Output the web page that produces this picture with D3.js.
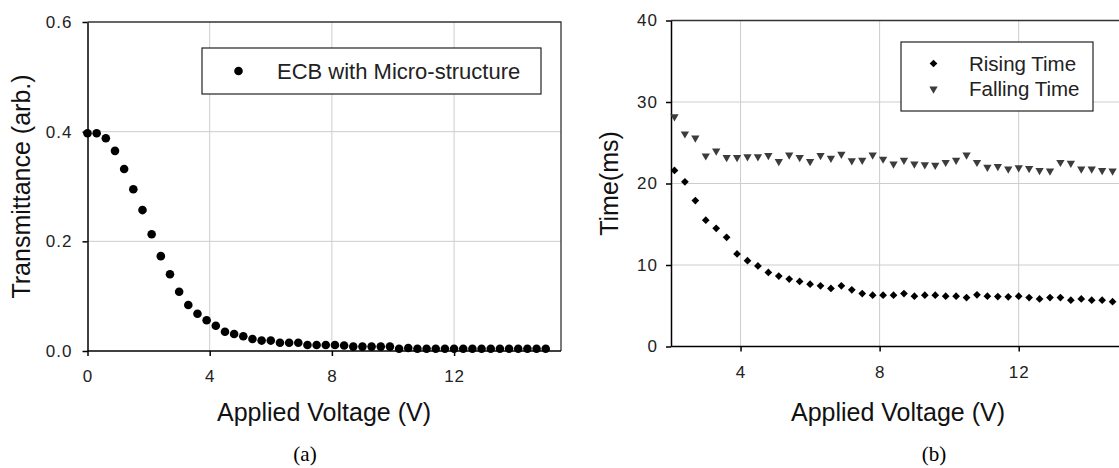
<!DOCTYPE html>
<html>
<head>
<meta charset="utf-8">
<script src="https://cdn.jsdelivr.net/npm/d3@7"></script>
<style>
body { margin: 0; background: #fff; }
svg { display: block; font-family: "Liberation Sans", Arial, sans-serif; }
.grid line { stroke: #cdcdcd; stroke-width: 1; }
.axis path, .axis line { stroke: #000; stroke-width: 1.5; }
.axis text { font-size: 17px; fill: #222; letter-spacing: 1px; }
.title { font-size: 25px; fill: #111; }
.caption { font-family: "Liberation Serif", "Times New Roman", serif; font-size: 21px; fill: #000; }
</style>
</head>
<body>
<svg width="1119" height="468"></svg>
<script>
// panel (a)
var voltageA = [0, 0.3, 0.6, 0.9, 1.2, 1.5, 1.8, 2.1, 2.4, 2.7, 3.0, 3.3, 3.6, 3.9, 4.2, 4.5, 4.8,
  5.1, 5.4, 5.7, 6.0, 6.3, 6.6, 6.9, 7.2, 7.5, 7.8, 8.1, 8.4, 8.7, 9.0, 9.3, 9.6, 9.9, 10.2,
  10.5, 10.8, 11.1, 11.4, 11.7, 12.0, 12.3, 12.6, 12.9, 13.2, 13.5, 13.8, 14.1, 14.4, 14.7, 15.0];
var transmittance = [0.397, 0.397, 0.388, 0.365, 0.332, 0.295, 0.257, 0.213, 0.173, 0.140, 0.108,
  0.084, 0.068, 0.056, 0.046, 0.035, 0.031, 0.027, 0.022, 0.019, 0.019, 0.015, 0.015, 0.015,
  0.011, 0.011, 0.011, 0.011, 0.010, 0.008, 0.008, 0.008, 0.008, 0.008, 0.004, 0.0055, 0.004,
  0.004, 0.004, 0.004, 0.004, 0.004, 0.004, 0.004, 0.004, 0.004, 0.004, 0.004, 0.004, 0.004, 0.004];
var xTicksA = [0, 4, 8, 12];
var yTicksA = [0, 0.2, 0.4, 0.6];

// panel (b)
var voltageB = [2.1, 2.4, 2.7, 3.0, 3.3, 3.6, 3.9, 4.2, 4.5, 4.8, 5.1, 5.4, 5.7, 6.0, 6.3, 6.6,
  6.9, 7.2, 7.5, 7.8, 8.1, 8.4, 8.7, 9.0, 9.3, 9.6, 9.9, 10.2, 10.5, 10.8, 11.1, 11.4, 11.7,
  12.0, 12.3, 12.6, 12.9, 13.2, 13.5, 13.8, 14.1, 14.4, 14.7];
var risingTime = [21.6, 20.2, 17.9, 15.5, 14.5, 13.4, 11.36, 10.53, 9.88, 9.09, 8.64, 8.27, 7.98,
  7.65, 7.45, 7.12, 7.45, 6.95, 6.5, 6.3, 6.3, 6.3, 6.5, 6.17, 6.3, 6.3, 6.17, 6.17, 6.0, 6.34,
  6.17, 6.13, 6.1, 6.17, 6.0, 5.84, 6.0, 6.0, 5.68, 5.84, 5.68, 5.68, 5.5];
var fallingTime = [28.2, 26.1, 25.6, 23.4, 24.0, 23.2, 23.2, 23.3, 23.3, 23.45, 22.7, 23.5, 23.2,
  22.7, 23.45, 23.1, 23.6, 22.8, 22.85, 23.5, 23.0, 22.4, 22.85, 22.4, 22.3, 22.25, 22.6, 22.85,
  23.5, 22.6, 22.0, 22.1, 21.8, 21.95, 21.85, 21.6, 21.55, 22.6, 22.5, 21.8, 21.8, 21.6, 21.55];
var xTicksB = [4, 8, 12];
var yTicksB = [0, 10, 20, 30, 40];

var svg = d3.select("svg");

function panel(o) {
  var g = svg.append("g");
  var x = d3.scaleLinear().domain(o.xDomain).range([o.left, o.right]);
  var y = d3.scaleLinear().domain(o.yDomain).range([o.bottom, o.top]);

  // gridlines
  var grid = g.append("g").attr("class", "grid");
  grid.selectAll(".gx").data(o.xTicks.filter(function(d) { return d > o.xDomain[0]; }))
    .enter().append("line")
    .attr("x1", function(d) { return x(d); }).attr("x2", function(d) { return x(d); })
    .attr("y1", o.top).attr("y2", o.bottom);
  grid.selectAll(".gy").data(o.yTicks.filter(function(d) { return d > o.yDomain[0] && d < o.yDomain[1]; }))
    .enter().append("line")
    .attr("y1", function(d) { return y(d); }).attr("y2", function(d) { return y(d); })
    .attr("x1", o.left).attr("x2", o.right);

  // top / right border
  g.append("path")
    .attr("d", "M" + o.left + "," + o.top + "H" + o.right + "V" + o.bottom)
    .attr("fill", "none").attr("stroke", "#333").attr("stroke-width", 1.3);

  g.append("g").attr("class", "axis")
    .attr("transform", "translate(0," + o.bottom + ")")
    .call(d3.axisBottom(x).tickValues(o.xTicks).tickSize(5).tickPadding(14).tickSizeOuter(0))
    .select(".domain").attr("d", "M" + o.left + ",0H" + o.right);

  g.append("g").attr("class", "axis")
    .attr("transform", "translate(" + o.left + ",0)")
    .call(d3.axisLeft(y).tickValues(o.yTicks).tickFormat(o.yFormat).tickSize(5).tickPadding(o.yPad).tickSizeOuter(0));

  g.append("text").attr("class", "title")
    .attr("x", o.xTitleX).attr("y", 412).attr("dy", "0.35em")
    .attr("text-anchor", "middle").text("Applied Voltage (V)");

  g.append("text").attr("class", "title")
    .attr("transform", "translate(" + o.yTitleX + "," + ((o.top + o.bottom) / 2) + ") rotate(-90)")
    .attr("dy", "0.35em").attr("text-anchor", "middle").text(o.yTitle);

  g.append("text").attr("class", "caption")
    .attr("x", o.captionX).attr("y", 454).attr("dy", "0.35em")
    .attr("text-anchor", "middle").text(o.caption);

  return {g: g, x: x, y: y};
}

// (a)
var a = panel({
  left: 87.5, right: 561, top: 22, bottom: 351,
  xDomain: [0, 15.5], yDomain: [0, 0.6],
  xTicks: xTicksA, yTicks: yTicksA, yFormat: d3.format(".1f"), yPad: 10,
  yTitle: "Transmittance (arb.)", yTitleX: 21, xTitleX: 324, caption: "(a)", captionX: 305
});

a.g.selectAll("circle.pt")
  .data(voltageA)
  .enter().append("circle")
  .attr("cx", function(d) { return a.x(d); })
  .attr("cy", function(d, i) { return a.y(transmittance[i]); })
  .attr("r", 4.3)
  .style("fill", "#000");

var legA = a.g.append("g");
legA.append("rect").attr("x", 202).attr("y", 48).attr("width", 339).attr("height", 46)
  .attr("fill", "#fff").attr("stroke", "#222").attr("stroke-width", 1.2);
legA.append("circle").attr("cx", 238.5).attr("cy", 71).attr("r", 4.3).style("fill", "#000");
legA.append("text").attr("x", 277).attr("y", 71).attr("dy", "0.35em")
  .style("font-size", "22px").style("fill", "#222").text("ECB with Micro-structure");

// (b)
var b = panel({
  left: 671, right: 1123, top: 20.5, bottom: 346.5,
  xDomain: [2, 15], yDomain: [0, 40],
  xTicks: xTicksB, yTicks: yTicksB, yFormat: d3.format("d"), yPad: 8,
  yTitle: "Time(ms)", yTitleX: 609, xTitleX: 898, caption: "(b)", captionX: 934
});

var diamond = d3.symbol().type(d3.symbolSquare).size(30);
var tri = d3.symbol().type(d3.symbolTriangle).size(30);

b.g.selectAll("path.rise")
  .data(voltageB)
  .enter().append("path")
  .attr("d", diamond)
  .attr("transform", function(d, i) { return "translate(" + b.x(d) + "," + b.y(risingTime[i]) + ") rotate(45)"; })
  .style("fill", "#000");

b.g.selectAll("path.fall")
  .data(voltageB)
  .enter().append("path")
  .attr("d", tri)
  .attr("transform", function(d, i) { return "translate(" + b.x(d) + "," + b.y(fallingTime[i]) + ") rotate(180)"; })
  .style("fill", "#3c3c3c");

var legB = b.g.append("g");
legB.append("rect").attr("x", 901).attr("y", 42).attr("width", 192).attr("height", 69)
  .attr("fill", "#fff").attr("stroke", "#222").attr("stroke-width", 1.2);
legB.append("path").attr("d", diamond)
  .attr("transform", "translate(933.5,63.5) rotate(45)").style("fill", "#000");
legB.append("path").attr("d", tri)
  .attr("transform", "translate(933.5,89) rotate(180)").style("fill", "#3c3c3c");
legB.append("text").attr("x", 969).attr("y", 63.5).attr("dy", "0.35em")
  .style("font-size", "20.5px").style("fill", "#222").text("Rising Time");
legB.append("text").attr("x", 969).attr("y", 89).attr("dy", "0.35em")
  .style("font-size", "20.5px").style("fill", "#222").text("Falling Time");
</script>
</body>
</html>
